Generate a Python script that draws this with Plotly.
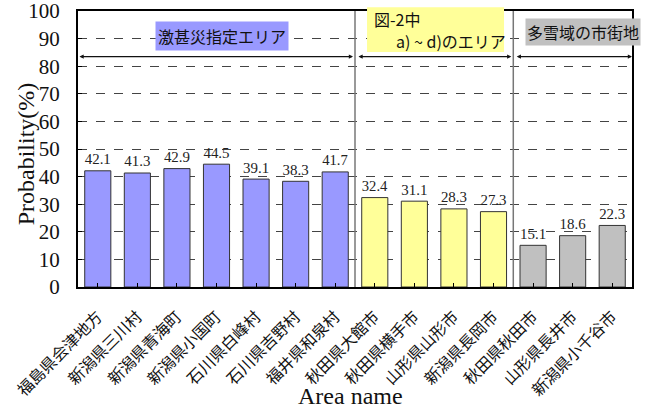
import plotly.graph_objects as go

areas = ["福島県会津地方", "新潟県三川村", "新潟県青海町", "新潟県小国町", "石川県白峰村",
         "石川県吉野村", "福井県和泉村", "秋田県大館市", "秋田県横手市", "山形県山形市",
         "新潟県長岡市", "秋田県秋田市", "山形県長井市", "新潟県小千谷市"]
probability = [42.1, 41.3, 42.9, 44.5, 39.1, 38.3, 41.7, 32.4, 31.1, 28.3, 27.3, 15.1, 18.6, 22.3]
groups = ["severe"] * 7 + ["fig2"] * 4 + ["snow"] * 3
group_colors = {"severe": "#9999FF", "fig2": "#FFFF99", "snow": "#C0C0C0"}

serif = "Liberation Serif, Times New Roman, serif"
cjk = "Noto Sans CJK JP, sans-serif"

fig = go.Figure()
fig.add_trace(go.Bar(
    x=list(range(len(areas))), y=probability,
    marker=dict(color=[group_colors[g] for g in groups], line=dict(color="#333333", width=1)),
    text=[f"{v:.1f}" for v in probability], textposition="outside",
    textfont=dict(family=serif, size=17, color="#222222"), cliponaxis=False,
    showlegend=False,
))

# group separators
for xs in (6.5, 10.5):
    fig.add_shape(type="line", x0=xs, x1=xs, y0=0, y1=100, xref="x", yref="y",
                  line=dict(color="#777777", width=1.5), layer="above")

# double-headed range arrows
arrow_y = 83.5
for a, b in ((-0.5, 6.45), (6.55, 10.45), (10.55, 13.5)):
    fig.add_annotation(x=b, y=arrow_y, ax=a, ay=arrow_y, xref="x", yref="y", axref="x", ayref="y",
                       text="", showarrow=True, arrowhead=2, arrowsize=0.7, arrowwidth=1.2,
                       arrowcolor="#111111", arrowside="end+start", startarrowhead=2, startarrowsize=0.7)

# group labels
fig.add_annotation(x=3.14, y=90.8, xref="x", yref="y", text="激甚災指定エリア", showarrow=False,
                   bgcolor="#9999FF", font=dict(family=cjk, size=16, color="#111111"),
                   borderpad=2)

# two-line yellow label: box drawn as a shape, each line its own text
fig.add_shape(type="rect", xref="paper", yref="paper", x0=0.5217, x1=0.769, y0=0.851, y1=1.014,
              fillcolor="#FFFF99", line=dict(width=0), layer="above")
fig.add_annotation(x=0.5307, y=0.970, xref="paper", yref="paper", text="図-2中", showarrow=False,
                   xanchor="left", yanchor="middle",
                   font=dict(family=cjk, size=16, color="#111111"))
fig.add_annotation(x=0.570, y=0.890, xref="paper", yref="paper", text="a) ~ d)のエリア",
                   showarrow=False, xanchor="left", yanchor="middle",
                   font=dict(family=cjk, size=16, color="#111111"))

fig.add_annotation(x=12.25, y=92.4, xref="x", yref="y", text="多雪域の市街地", showarrow=False,
                   bgcolor="#C0C0C0", font=dict(family=cjk, size=16, color="#111111"),
                   borderpad=1)

# axis titles
fig.add_annotation(x=-0.094, y=0.484, xref="paper", yref="paper", text="Probability(%)",
                   xanchor="center", yanchor="middle",
                   textangle=-90, showarrow=False, font=dict(family=serif, size=24, color="#111111"))
fig.add_annotation(x=0.491, y=-0.395, xref="paper", yref="paper", text="Area name",
                   xanchor="center", yanchor="middle",
                   showarrow=False, font=dict(family=serif, size=24, color="#111111"))

fig.update_layout(
    width=660, height=409, margin=dict(l=78, r=28, t=11, b=122),
    paper_bgcolor="white", plot_bgcolor="white", bargap=0.34,
    xaxis=dict(tickmode="array", tickvals=list(range(len(areas))), ticktext=areas,
               tickangle=-45, tickfont=dict(family=cjk, size=16, color="#111111"),
               range=[-0.5, 13.5], showline=True, linecolor="black", linewidth=2, mirror=True,
               ticks="inside", tickson="boundaries", ticklen=4, tickcolor="black",
               ticklabelstandoff=12, ticklabeloverflow="allow", showgrid=False, automargin=False),
    yaxis=dict(range=[0, 100], dtick=10, showline=True, linecolor="black", linewidth=2, mirror=True,
               ticks="inside", ticklen=4, tickcolor="black", ticklabelstandoff=12,
               ticklabeloverflow="allow",
               tickfont=dict(family=serif, size=21, color="#111111"),
               showgrid=True, gridcolor="#444444", griddash="dash", gridwidth=1, automargin=False),
)

fig.write_html("out.html")
